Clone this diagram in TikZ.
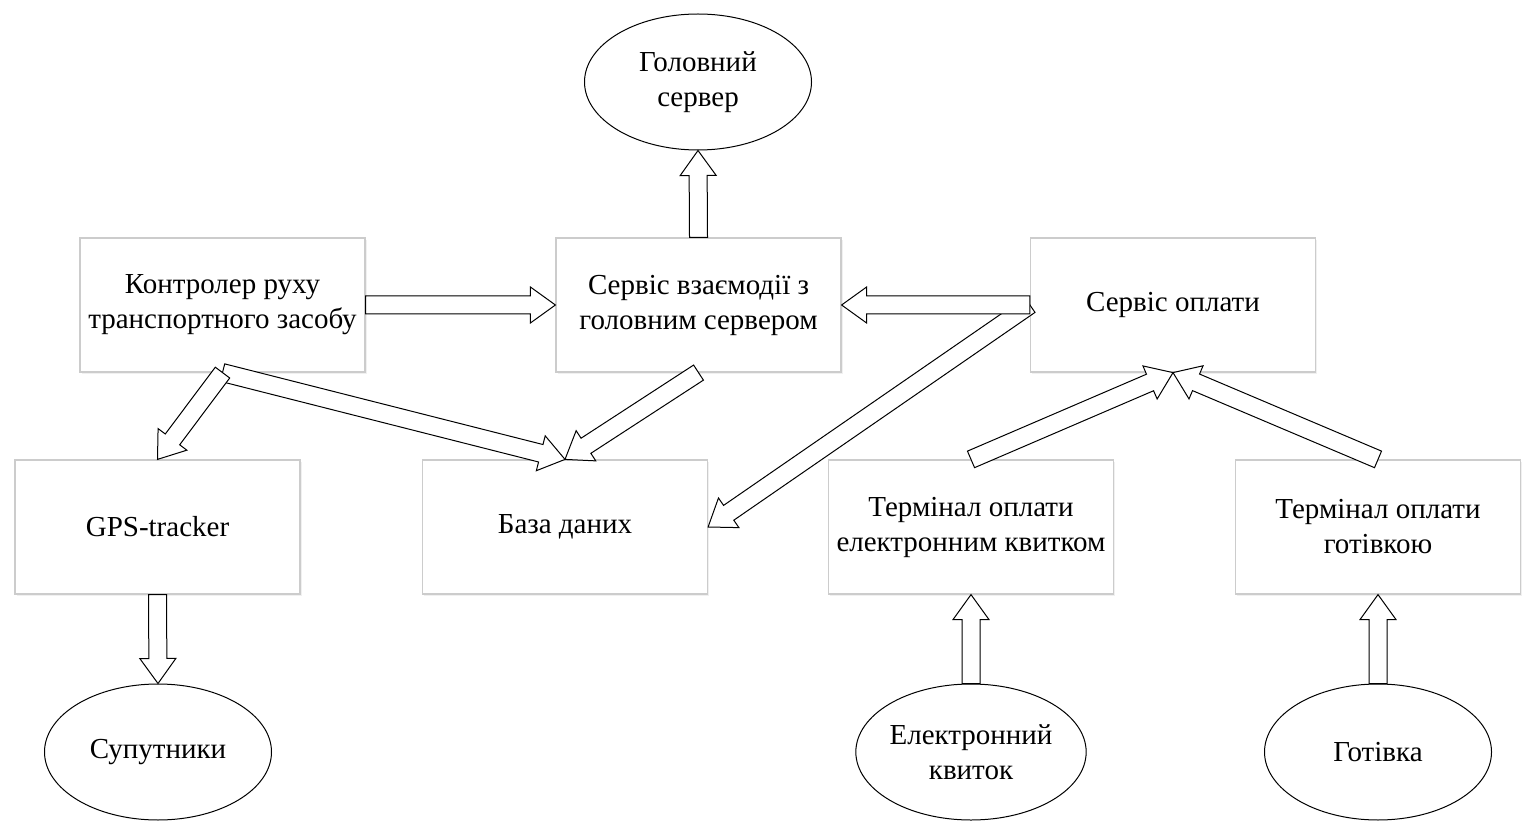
\documentclass[tikz,border=0pt]{standalone}
\usepackage{fontspec}
\setmainfont{Liberation Serif}
\usetikzlibrary{calc,shapes.geometric,shadows}

% hollow block arrow from #1 (tail centre) to #2 (tip)
\newcommand{\blockarrow}[2]{%
  \path (#1) coordinate (ba-s) (#2) coordinate (ba-t);
  \path ($(ba-t)!12.5pt!(ba-s)$) coordinate (ba-b);
  \draw[arrowbody]
    ($(ba-s)!4.5pt!90:(ba-t)$) -- ($(ba-b)!4.5pt!-90:(ba-s)$) --
    ($(ba-b)!9pt!-90:(ba-s)$) -- (ba-t) --
    ($(ba-b)!9pt!90:(ba-s)$) -- ($(ba-b)!4.5pt!90:(ba-s)$) --
    ($(ba-s)!4.5pt!-90:(ba-t)$) -- cycle;
}

\tikzset{
  box/.style={draw=gray!40, line width=0.6pt, fill=white,
    minimum width=142.5pt, minimum height=67pt, inner sep=0pt,
    align=center, font=\fontsize{14.5}{17.5}\selectfont,
    drop shadow={shadow xshift=0.8pt, shadow yshift=-0.8pt, opacity=0.12}},
  oval/.style={ellipse, draw=black, line width=0.5pt, fill=white,
    minimum width=113.5pt, minimum height=68pt, inner sep=0pt,
    align=center, font=\fontsize{14.5}{17.5}\selectfont},
  arrowbody/.style={draw=black, line width=0.5pt, fill=white, line join=miter}
}

\begin{document}
\begin{tikzpicture}[x=0.5pt, y=-0.5pt]
  \useasboundingbox (0,0) rectangle (1525,823);

  % ellipses
  \node[oval] (main) at (698,82) {Головний\\сервер};
  \node[oval] (sat) at (158,752) {Супутники};
  \node[oval] (eticket) at (971,752) {Електронний\\квиток};
  \node[oval] (cash) at (1378,752) {Готівка};

  % boxes
  \node[box] (ctrl) at (222.5,305) {Контролер руху\\транспортного засобу};
  \node[box] (srv) at (698.5,305) {Сервіс взаємодії з\\головним сервером};
  \node[box] (pay) at (1173,305) {Сервіс оплати};
  \node[box] (gps) at (157.5,527) {GPS-tracker};
  \node[box] (db) at (565,527) {База даних};
  \node[box] (term1) at (971,527) {Термінал оплати\\електронним квитком};
  \node[box] (term2) at (1378,527) {Термінал оплати\\готівкою};

  % connectors
  \blockarrow{srv.north}{main.south}
  \blockarrow{ctrl.east}{srv.west}
  \blockarrow{pay.west}{db.east}
  \blockarrow{pay.west}{srv.east}
  \blockarrow{ctrl.south}{db.north}
  \blockarrow{ctrl.south}{gps.north}
  \blockarrow{srv.south}{db.north}
  \blockarrow{term1.north}{pay.south}
  \blockarrow{term2.north}{pay.south}
  \blockarrow{gps.south}{sat.north}
  \blockarrow{eticket.north}{term1.south}
  \blockarrow{cash.north}{term2.south}
\end{tikzpicture}
\end{document}
